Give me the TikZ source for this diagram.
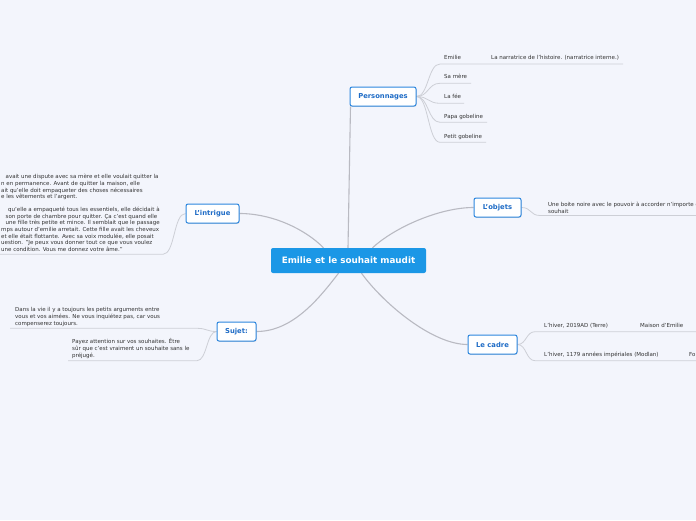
\documentclass[tikz,border=0pt]{standalone}
\usepackage{fontspec}
\setmainfont{DejaVu Sans}
\usetikzlibrary{shadows}
\pgfdeclarelayer{background}
\pgfsetlayers{background,main}
\definecolor{bg}{HTML}{F3F5FC}
\definecolor{centralc}{HTML}{1B97E6}
\definecolor{topicb}{HTML}{2C86DE}
\definecolor{topict}{HTML}{1F6CC6}
\definecolor{connc}{HTML}{B9BAC2}
\definecolor{sublc}{HTML}{CDCFD6}
\definecolor{txt}{HTML}{333333}
\tikzset{
  centralbox/.style={fill=centralc, rounded corners=2pt, text=white,
    font=\fontsize{8.8}{10}\selectfont\bfseries, minimum width=155pt,
    minimum height=25pt, inner sep=0pt},
  topicbox/.style={draw=topicb, line width=1pt, fill=white, rounded corners=2pt,
    text=topict, font=\fontsize{6.8}{8}\selectfont\bfseries, minimum height=19pt,
    inner sep=0pt, drop shadow={shadow xshift=0.5pt, shadow yshift=-0.8pt, opacity=0.25}},
  subtext/.style={text=txt, font=\fontsize{5.5}{7}\selectfont, inner sep=0pt, align=left},
  mainconn/.style={draw=connc, line width=1.1pt},
  subconn/.style={draw=sublc, line width=0.8pt},
}
\begin{document}
\begin{tikzpicture}[x=1pt,y=-1pt]
\clip (0,0) rectangle (696,520);
\begin{pgfonlayer}{background}
\fill[bg] (0,0) rectangle (696,520);
\end{pgfonlayer}

% main nodes
\node[centralbox] (c) at (348.5,260.5) {Emilie et le souhait maudit};
\node[topicbox, minimum width=66pt] (P) at (383,96.5) {Personnages};
\node[topicbox, minimum width=47pt] (O) at (497.5,207.5) {L'objets};
\node[topicbox, minimum width=49pt] (L) at (492.5,344.5) {Le cadre};
\node[topicbox, minimum width=39pt] (S) at (236.5,331.5) {Sujet:};
\node[topicbox, minimum width=53pt] (I) at (212.5,213.5) {L'intrigue};

% sub-topic text nodes
\node[subtext, anchor=base west] (p1) at (444,59.4) {Emilie};
\node[subtext, anchor=base west] (p1a) at (491,59.4) {La narratrice de l'histoire. (narratrice interne.)};
\node[subtext, anchor=base west] (p2) at (444,78.8) {Sa mère};
\node[subtext, anchor=base west] (p3) at (444,98.8) {La fée};
\node[subtext, anchor=base west] (p4) at (444,118.1) {Papa gobeline};
\node[subtext, anchor=base west] (p5) at (444,138.1) {Petit gobeline};

\node[subtext, anchor=north west] (o1) at (548,201.6) {Une boite noire avec le pouvoir à accorder n'importe quel\\souhait};

\node[subtext, anchor=base west] (l1) at (544,327.7) {L'hiver, 2019AD (Terre)};
\node[subtext, anchor=base west] (l1a) at (640,327.7) {Maison d'Emilie};
\node[subtext, anchor=base west] (l2) at (544,356.3) {L'hiver, 1179 années impériales (Modlan)};
\node[subtext, anchor=base west] (l2a) at (689,356.3) {Fo};

\node[subtext, anchor=north west, font=\fontsize{5.5}{7.3}\selectfont] (s1) at (15,306.9)
  {Dans la vie il y a toujours les petits arguments entre\\vous et vos aimées. Ne vous inquiétez pas, car vous\\compenserez toujours.};
\node[subtext, anchor=north west, font=\fontsize{5.5}{7.1}\selectfont] (s2) at (72,338.4)
  {Payez attention sur vos souhaites. Être\\sûr que c'est vraiment un souhaite sans le\\préjugé.};

\node[subtext, anchor=north west, font=\fontsize{5.5}{6.65}\selectfont] (i1) at (1,174.3)
  {\hspace{4.5pt}avait une dispute avec sa mère et elle voulait quitter la\\
   n en permanence. Avant de quitter la maison, elle\\
   ait qu'elle doit empaqueter des choses nécessaires\\
   e les vêtements et l'argent.\\[5.95pt]
   \hspace{7pt}qu'elle a empaqueté tous les essentiels, elle décidait à\\
   \hspace{4.5pt}son porte de chambre pour quitter. Ça c'est quand elle\\
   \hspace{4.5pt}une fille très petite et mince. Il semblait que le passage\\
   mps autour d'emilie arretait. Cette fille avait les cheveux\\
   et elle était flottante. Avec sa voix modulée, elle posait\\
   uestion. "Je peux vous donner tout ce que vous voulez\\
   une condition. Vous me donnez votre âme."};

% underline coordinates
\coordinate (u1) at (440,64); \coordinate (u1e) at (623,64);
\coordinate (u2) at (440,83.3); \coordinate (u2e) at (471,83.3);
\coordinate (u3) at (440,103.3); \coordinate (u3e) at (464,103.3);
\coordinate (u4) at (440,122.3); \coordinate (u4e) at (487,122.3);
\coordinate (u5) at (440,142.3); \coordinate (u5e) at (486,142.3);
\coordinate (uo) at (540,215.5); \coordinate (uoe) at (700,215.5);
\coordinate (ul1) at (535,331.7); \coordinate (ul1e) at (700,331.7);
\coordinate (ul2) at (535,360.7); \coordinate (ul2e) at (700,360.7);
\coordinate (us1) at (197,328.3); \coordinate (us1e) at (10,328.3);
\coordinate (us2) at (197,360.7); \coordinate (us2e) at (68,360.7);
\coordinate (ui) at (163,254.3); \coordinate (uie) at (-5,254.3);

\begin{pgfonlayer}{background}
% main connectors
\draw[mainconn] ([xshift=-0.5pt]c.north) -- ([xshift=1pt]P.south west);
\draw[mainconn] ([xshift=-25pt]c.north) .. controls (305,229) and (272,213.5) .. (I.east);
\draw[mainconn] ([xshift=24pt]c.north) .. controls (395,227) and (440,207.5) .. (O.west);
\draw[mainconn] ([xshift=-10pt]c.south) .. controls (318,300) and (292,331.5) .. (S.east);
\draw[mainconn] ([xshift=13pt]c.south) .. controls (383,303) and (432,344.5) .. (L.west);

% sub connectors
\foreach \u in {1,...,5}{
  \draw[subconn] (P.east) .. controls ++(12,0) and ([xshift=-12pt]u\u) .. (u\u) -- (u\u e);
}
\draw[subconn] (O.east) .. controls ++(10,0) and ([xshift=-10pt]uo) .. (uo) -- (uoe);
\draw[subconn] (L.east) .. controls ++(9,0) and ([xshift=-9pt]ul1) .. (ul1) -- (ul1e);
\draw[subconn] (L.east) .. controls ++(9,0) and ([xshift=-9pt]ul2) .. (ul2) -- (ul2e);
\draw[subconn] (S.west) .. controls ++(-10,0) and ([xshift=10pt]us1) .. (us1) -- (us1e);
\draw[subconn] (S.west) .. controls ++(-10,0) and ([xshift=10pt]us2) .. (us2) -- (us2e);
\draw[subconn] (I.west) .. controls ++(-12,0) and ([xshift=12pt]ui) .. (ui) -- (uie);
\end{pgfonlayer}
\end{tikzpicture}
\end{document}
